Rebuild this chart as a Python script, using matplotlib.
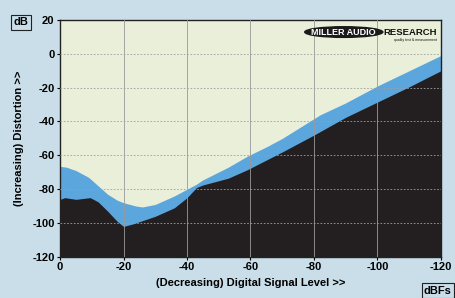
import numpy as np
import matplotlib.pyplot as plt
from matplotlib.patches import Ellipse

plt.rcParams['font.family'] = ['Liberation Sans', 'DejaVu Sans']
plt.rcParams['axes.unicode_minus'] = False

# signal level (dBFS) and distortion envelope
level_upper = [0, -2, -5, -9, -12, -15, -18, -20, -24, -26, -30, -36, -40,
               -43, -45, -53, -59, -65, -70, -82, -90, -100, -110, -120]
dist_upper = [-66.5, -67, -69, -73, -78, -83, -86.5, -88, -90, -90.5, -89,
              -84, -80, -77, -74.5, -67, -60.5, -55, -50, -36, -29, -19,
              -10, -1]

level_lower = [0, -1.5, -5, -9.5, -12, -15, -18, -20, -23, -30, -36, -40,
               -43, -45, -53, -59, -70, -80, -90, -100, -110, -120]
dist_lower = [-86, -85, -86, -85, -87.5, -93, -99, -102, -100.5, -96, -91,
              -85, -79, -77.5, -73.5, -68.5, -58, -48, -37.5, -28.5, -19.5,
              -10]

xticks = [0, -20, -40, -60, -80, -100, -120]
yticks = [20, 0, -20, -40, -60, -80, -100, -120]

bg_outer = '#c9dee9'
bg_plot = '#e9efd9'
blue = '#5ba6dc'
dark = '#231f20'

fig = plt.figure(figsize=(4.55, 2.98), dpi=100, facecolor=bg_outer)
ax = fig.add_axes([0.132, 0.138, 0.837, 0.795], facecolor=bg_plot)

ax.fill_between(level_upper, -120, dist_upper, color=blue, lw=0, zorder=1)
ax.fill_between(level_lower, -120, dist_lower, color=dark, lw=0, zorder=2)

ax.set_xlim(0, -120)
ax.set_ylim(-120, 20)
ax.set_xticks(xticks)
ax.set_yticks(yticks)
ax.tick_params(labelsize=8, length=2, width=0.8, pad=2)
for lab in ax.get_xticklabels() + ax.get_yticklabels():
    lab.set_fontweight('bold')

for x in xticks[1:-1]:
    ax.axvline(x, color='#999999', lw=0.6, zorder=3)
for y in yticks[1:-1]:
    ax.axhline(y, color='#a0a0a0', lw=0.6, ls=(0, (2, 2)), zorder=3)

for s in ax.spines.values():
    s.set_linewidth(1.0)
    s.set_color('#222222')

ax.set_ylabel('(Increasing) Distortion >>', fontsize=8, fontweight='bold')
ax.yaxis.set_label_coords(-0.095, 0.5)
ax.set_xlabel('(Decreasing) Digital Signal Level >>', fontsize=8, fontweight='bold', labelpad=4)

fig.text(0.046, 0.925, 'dB', fontsize=8, fontweight='bold', ha='center', va='center',
         bbox=dict(boxstyle='square,pad=0.2', fc='none', ec='#222222', lw=0.8))
fig.text(0.962, 0.025, 'dBFs', fontsize=8, fontweight='bold', ha='center', va='center',
         bbox=dict(boxstyle='square,pad=0.2', fc='none', ec='#222222', lw=0.8))

# logo
ell = Ellipse((0.745, 0.949), 0.205, 0.045, transform=ax.transAxes,
              color='#1a1a1a', zorder=5)
ax.add_patch(ell)
ax.text(0.745, 0.949, 'MILLER AUDIO', transform=ax.transAxes, fontsize=6.5,
        fontweight='bold', color='white', ha='center', va='center', zorder=6)
ax.text(0.848, 0.949, 'RESEARCH', transform=ax.transAxes, fontsize=6.8,
        fontweight='bold', color='#111111', ha='left', va='center', zorder=6)
ax.text(0.99, 0.915, 'quality test & measurement', transform=ax.transAxes, fontsize=2.5,
        color='#111111', ha='right', va='center', zorder=6)

fig.savefig('out.png', dpi=100, facecolor=bg_outer)
